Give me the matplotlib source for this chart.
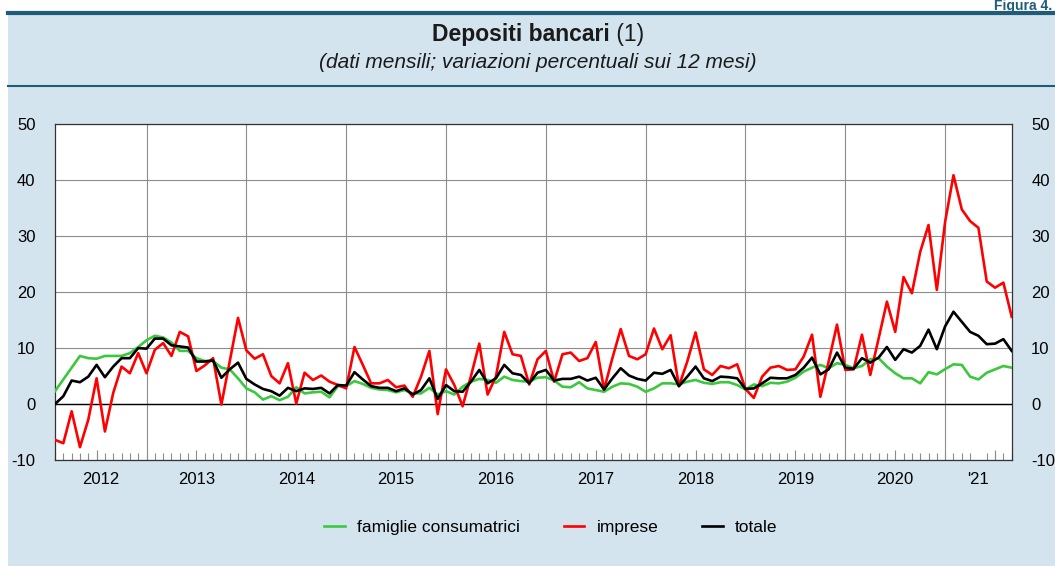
import numpy as np
import pandas as pd
import matplotlib
matplotlib.use("Agg")
import matplotlib.pyplot as plt
from matplotlib.patches import Rectangle
from matplotlib.lines import Line2D

plt.rcParams['font.family'] = ['Liberation Sans', 'DejaVu Sans']
plt.rcParams['axes.unicode_minus'] = False

# monthly data, Jan 2012 - Aug 2021 (12-month % change)
months = pd.date_range('2012-01-01', periods=116, freq='MS')

famiglie = [
    2.3, 4.4, 6.5, 8.6, 8.2, 8.1, 8.6, 8.6, 8.6, 9.1, 10.2, 11.4,
    12.2, 11.9, 11.0, 9.5, 9.5, 8.2, 7.7, 7.7, 6.5, 6.2, 4.6, 2.8,
    2.1, 0.8, 1.4, 0.7, 1.3, 3.0, 1.9, 2.1, 2.2, 1.2, 3.2, 3.2,
    4.1, 3.6, 2.9, 2.6, 2.5, 2.1, 2.5, 1.9, 1.9, 2.9, 1.7, 2.3,
    1.7, 3.1, 4.0, 4.5, 4.3, 3.8, 4.9, 4.3, 4.1, 4.0, 4.7, 4.8,
    4.2, 3.1, 3.0, 3.9, 2.8, 2.5, 2.2, 3.1, 3.7, 3.6, 3.1, 2.2,
    2.8, 3.7, 3.7, 3.5, 4.0, 4.3, 3.8, 3.6, 3.9, 3.9, 3.4, 2.6,
    3.5, 3.2, 3.8, 3.7, 4.0, 4.7, 5.8, 6.5, 7.0, 6.4, 7.3, 7.0,
    6.4, 6.8, 8.0, 8.2, 6.7, 5.5, 4.6, 4.6, 3.7, 5.7, 5.3, 6.25,
    7.1, 7.0, 4.9, 4.4, 5.6, 6.2, 6.8, 6.5,
]
imprese = [
    -6.4, -7.0, -1.3, -7.7, -2.8, 4.6, -4.9, 2.0, 6.7, 5.5, 9.1, 5.5,
    9.7, 10.9, 8.6, 12.9, 12.1, 5.9, 6.9, 8.2, -0.1, 7.6, 15.4, 9.6,
    8.1, 8.9, 5.0, 3.7, 7.3, 0.1, 5.6, 4.3, 5.1, 4.0, 3.4, 2.8,
    10.2, 7.0, 3.7, 3.7, 4.3, 3.0, 3.3, 1.3, 4.9, 9.5, -1.8, 6.2,
    3.4, -0.4, 5.0, 10.8, 1.7, 4.9, 12.9, 8.9, 8.6, 3.5, 8.0, 9.5,
    4.0, 8.9, 9.2, 7.7, 8.2, 11.1, 2.6, 8.2, 13.4, 8.6, 8.0, 8.9,
    13.5, 9.8, 12.3, 3.2, 7.6, 12.8, 6.2, 5.2, 6.8, 6.4, 7.1, 2.7,
    1.1, 4.9, 6.5, 6.8, 6.1, 6.2, 8.5, 12.4, 1.3, 7.6, 14.2, 6.1,
    6.2, 12.4, 5.2, 11.7, 18.3, 12.9, 22.7, 19.8, 27.2, 32.0, 20.4, 32.6,
    40.9, 34.8, 32.7, 31.5, 21.9, 20.8, 21.7, 15.6,
]
totale = [
    0.0, 1.4, 4.2, 3.9, 4.9, 7.0, 4.8, 6.7, 8.2, 8.2, 10.0, 9.9,
    11.7, 11.7, 10.5, 10.3, 10.1, 7.6, 7.6, 7.8, 4.7, 6.2, 7.4, 4.5,
    3.5, 2.7, 2.3, 1.5, 2.9, 2.3, 2.8, 2.7, 2.9, 1.9, 3.4, 3.3,
    5.7, 4.4, 3.2, 2.9, 2.9, 2.3, 2.8, 1.7, 2.5, 4.6, 0.9, 3.4,
    2.3, 2.2, 4.0, 6.1, 3.7, 4.6, 7.0, 5.5, 5.2, 3.7, 5.6, 6.1,
    4.2, 4.5, 4.5, 4.9, 4.2, 4.7, 2.6, 4.6, 6.4, 5.1, 4.5, 4.2,
    5.6, 5.4, 6.1, 3.2, 4.9, 6.7, 4.6, 4.1, 4.9, 4.8, 4.6, 2.7,
    2.8, 3.7, 4.7, 4.6, 4.6, 5.2, 6.5, 8.3, 5.3, 6.2, 9.2, 6.5,
    6.3, 8.2, 7.4, 8.3, 10.2, 7.9, 9.8, 9.2, 10.4, 13.3, 9.8, 13.9,
    16.5, 14.7, 12.9, 12.2, 10.7, 10.8, 11.6, 9.5,
]
year_labels = ['2012', '2013', '2014', '2015', '2016', '2017', '2018', '2019', '2020', "'21"]

BG = '#d3e4ee'
TEAL = '#1e5c7a'
GRID = '#8c8c8c'

W, H = 1055, 566
fig = plt.figure(figsize=(W / 100, H / 100), dpi=100, facecolor='white')

# blue panel + header rules
fig.patches.append(Rectangle((8 / W, 0), 1 - 8 / W, 1 - 12 / H, transform=fig.transFigure,
                             facecolor=BG, edgecolor='none', zorder=-1))
fig.add_artist(Line2D([8 / W, 1], [1 - 13 / H] * 2, color=TEAL, lw=3, zorder=1))
fig.add_artist(Line2D([8 / W, 1], [1 - 86 / H] * 2, color=TEAL, lw=1.5, zorder=1))
fig.text(1052 / W, 1 - 10 / H, 'Figura 4.', color=TEAL, fontsize=10, fontweight='bold',
         ha='right', va='baseline')

# title: bold part + regular "(1)", centred together
ty = 1 - 35 / H
t1 = fig.text(0, ty, 'Depositi bancari', fontsize=16.5, fontweight='bold', va='center', color='#1a1a1a')
t2 = fig.text(0, ty, ' (1)', fontsize=16.5, va='center', color='#1a1a1a')
fig.canvas.draw()
r = fig.canvas.get_renderer()
w1 = t1.get_window_extent(r).width / W
w2 = t2.get_window_extent(r).width / W
x0 = 538 / W - (w1 + w2) / 2
t1.set_x(x0)
t2.set_x(x0 + w1)
fig.text(538 / W, 1 - 62 / H, '(dati mensili; variazioni percentuali sui 12 mesi)',
         fontsize=15, fontstyle='italic', ha='center', va='center', color='#1a1a1a')

ax = fig.add_axes([55 / W, 1 - 460 / H, (1011.7 - 55) / W, (460 - 124.3) / H])
ax.set_zorder(2)
ax.set_facecolor('white')
x = np.arange(len(months))

ax.plot(x, famiglie, color='#3cc83c', lw=1.9, label='famiglie consumatrici', zorder=3)
ax.plot(x, imprese, color='#ff0000', lw=1.9, label='imprese', zorder=4)
ax.plot(x, totale, color='black', lw=1.9, label='totale', zorder=5)

ax.set_xlim(0, len(months) - 1)
ax.set_ylim(-10, 50)
ax.set_yticks(range(-10, 51, 10))
ax.yaxis.grid(True, color=GRID, lw=0.8)
ax.axhline(0, color='black', lw=1, zorder=2)

# year separators at December, tall ticks at June, small ticks every month
dec = x[months.month == 12]
jun = x[months.month == 6]
for d in dec:
    ax.axvline(d, color=GRID, lw=0.8, zorder=1)
ax.vlines(jun, 0, 0.03, transform=ax.get_xaxis_transform(), color=GRID, lw=0.8)
ax.set_xticks(x, minor=True)
ax.tick_params(axis='x', which='minor', direction='in', length=5, color=GRID, width=0.8)

# year labels centred on the visible part of each year
years = months.year
centers = []
for yv in sorted(set(years)):
    idx = x[years == yv]
    lo = max(idx[0] - 1, 0)
    centers.append((lo + idx[-1]) / 2)
ax.set_xticks(centers)
ax.set_xticklabels(year_labels)
ax.tick_params(axis='x', which='major', length=0, pad=9, labelsize=12)
ax.tick_params(axis='y', length=0, pad=14, labelsize=12, labelleft=True, labelright=True)
ax.set_axisbelow(True)

for s in ax.spines.values():
    s.set_color('#333333')
    s.set_linewidth(0.9)

fig.legend(loc='center', bbox_to_anchor=(0.522, 1 - 527 / H), ncol=3, frameon=False,
           fontsize=12.5, handlelength=1.2, handletextpad=0.7, columnspacing=2.5)

fig.savefig('out.png', dpi=100, facecolor=fig.get_facecolor())
